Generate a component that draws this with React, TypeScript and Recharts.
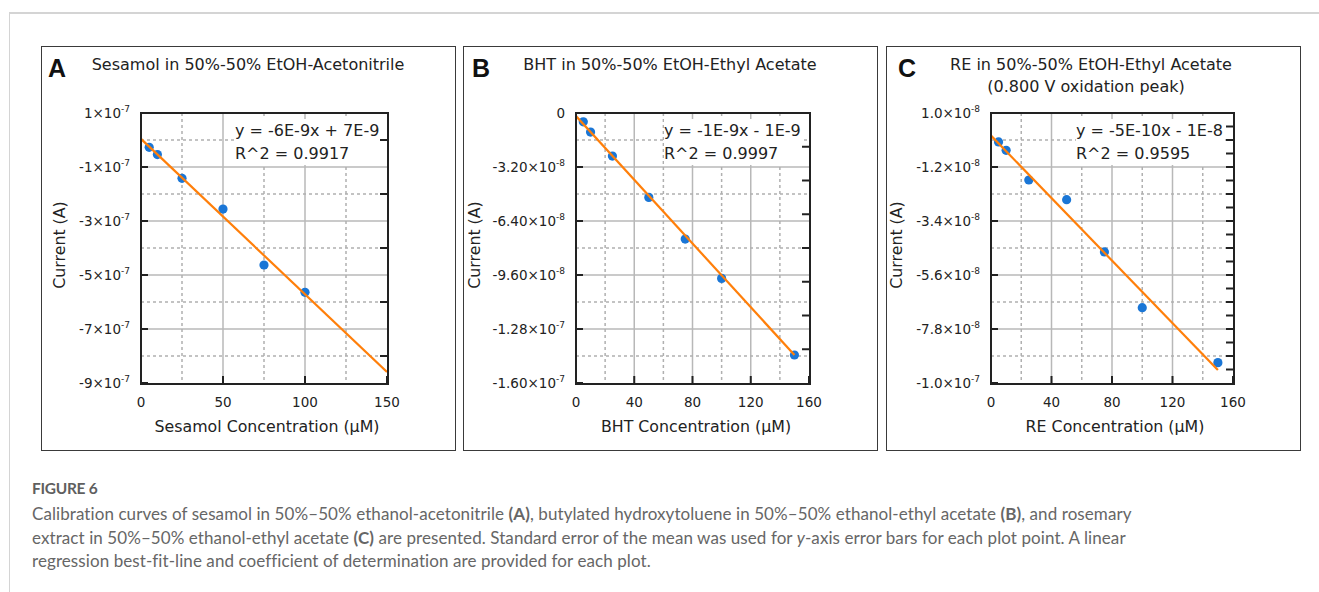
import React from "react";
import { ScatterChart, Scatter, XAxis, YAxis, CartesianGrid } from "recharts";

const BLUE = "#1a76d6";
const ORANGE = "#ff7f0a";
const FONT = "'DejaVu Sans', Verdana, sans-serif";
const INK = "#222";

// Panel A: sesamol
const concA = [5, 10, 25, 50, 75, 100];
const currentA = [-2.7e-8, -5.4e-8, -1.42e-7, -2.56e-7, -4.63e-7, -5.64e-7];
const fitXA = [0, 150];
const fitYA = [4e-9, -8.59e-7];
const xTicksA = [0, 50, 100, 150];
const yTicksA = [1e-7, -1e-7, -3e-7, -5e-7, -7e-7, -9e-7];
const yBaseA = ["1×10", "-1×10", "-3×10", "-5×10", "-7×10", "-9×10"];
const yExpA = ["-7", "-7", "-7", "-7", "-7", "-7"];
const xGridA = [50, 100];
const xDotA = [25, 75, 125];
const yGridA = [-1e-7, -3e-7, -5e-7, -7e-7];
const yDotA = [0, -2e-7, -4e-7, -6e-7, -8e-7];
const topTicksA = [25, 50, 75, 100, 125];
const rightTicksA = [0, -2e-7, -4e-7, -6e-7, -8e-7];

// Panel B: BHT
const concB = [5, 10, 25, 50, 75, 100, 150];
const currentB = [-5.2e-9, -1.13e-8, -2.55e-8, -5.0e-8, -7.47e-8, -9.8e-8, -1.434e-7];
const fitXB = [0, 150];
const fitYB = [-1.8e-9, -1.434e-7];
const xTicksB = [0, 40, 80, 120, 160];
const yTicksB = [0, -3.2e-8, -6.4e-8, -9.6e-8, -1.28e-7, -1.6e-7];
const yBaseB = ["0", "-3.20×10", "-6.40×10", "-9.60×10", "-1.28×10", "-1.60×10"];
const yExpB = ["", "-8", "-8", "-8", "-7", "-7"];
const xGridB = [40, 80, 120];
const xDotB = [20, 60, 100, 140];
const yGridB = [-3.2e-8, -6.4e-8, -9.6e-8, -1.28e-7];
const yDotB = [-1.6e-8, -4.8e-8, -8e-8, -1.12e-7, -1.44e-7];
const topTicksB = [20, 40, 60, 80, 100, 120, 140];
const rightTicksB = [-2e-8, -4e-8, -6e-8, -8e-8, -1e-7, -1.2e-7, -1.4e-7];

// Panel C: rosemary extract
const concC = [5, 10, 25, 50, 75, 100, 150];
const currentC = [-1.8e-9, -5.2e-9, -1.73e-8, -2.53e-8, -4.66e-8, -6.93e-8, -9.17e-8];
const fitXC = [0, 150];
const fitYC = [0.8e-9, -9.47e-8];
const xTicksC = [0, 40, 80, 120, 160];
const yTicksC = [1e-8, -1.2e-8, -3.4e-8, -5.6e-8, -7.8e-8, -1e-7];
const yBaseC = ["1.0×10", "-1.2×10", "-3.4×10", "-5.6×10", "-7.8×10", "-1.0×10"];
const yExpC = ["-8", "-8", "-8", "-8", "-8", "-7"];
const xGridC = [40, 80, 120];
const xDotC = [20, 60, 100, 140];
const yGridC = [-1.2e-8, -3.4e-8, -5.6e-8, -7.8e-8];
const yDotC = [-1e-9, -2.3e-8, -4.5e-8, -6.7e-8, -8.9e-8];
const topTicksC = [20, 40, 60, 80, 100, 120, 140];
const rightTicksC = [
  4.5e-9, -1e-9, -6.5e-9, -1.2e-8, -1.75e-8, -2.3e-8, -2.85e-8, -3.4e-8, -3.95e-8, -4.5e-8,
  -5.05e-8, -5.6e-8, -6.15e-8, -6.7e-8, -7.25e-8, -7.8e-8, -8.35e-8, -8.9e-8, -9.45e-8,
];

const TICK_LEN = 7;

function nearest(list: number[], v: number) {
  let best = 0;
  list.forEach((t, i) => {
    if (Math.abs(t - v) < Math.abs(list[best] - v)) best = i;
  });
  return best;
}

function Plot(p: any) {
  const ML = 100;
  const MB = 50;
  const SIDE = 10;
  const EXTRA = 24;
  const pts = p.xs.map((x: number, i: number) => ({ x, y: p.ys[i] }));
  const fit = p.fitX.map((x: number, i: number) => ({ x, y: p.fitY[i] }));
  const xDomain = [p.xTicks[0], p.xTicks[p.xTicks.length - 1]];
  const yDomain = [p.yTicks[p.yTicks.length - 1], p.yTicks[0]];

  // tick renderers draw the inward tick mark plus the label
  const YTick = (t: any) => {
    const i = nearest(p.yTicks, t.payload.value);
    const x = Number(t.x);
    const y = Number(t.y);
    return (
      <g>
        <line x1={x} x2={x + TICK_LEN} y1={y} y2={y} stroke={INK} strokeWidth={2} />
        <text x={x - 11} y={y + 4.5} textAnchor="end" fontFamily={FONT} fontSize={13.5} fill={INK}>
          {p.yBase[i]}
          {p.yExp[i] ? (
            <tspan dy={-6} fontSize={9}>
              {p.yExp[i]}
            </tspan>
          ) : null}
        </text>
      </g>
    );
  };
  const XTick = (t: any) => {
    const x = Number(t.x);
    const y = Number(t.y);
    return (
      <g>
        <line x1={x} x2={x} y1={y} y2={y - TICK_LEN} stroke={INK} strokeWidth={2} />
        <text x={x} y={y + 24} textAnchor="middle" fontFamily={FONT} fontSize={13.5} fill={INK}>
          {t.payload.value}
        </text>
      </g>
    );
  };
  const TopTick = (t: any) => {
    const x = Number(t.x);
    const y = Number(t.y);
    return <line x1={x} x2={x} y1={y} y2={y + TICK_LEN} stroke={INK} strokeWidth={2} />;
  };
  const RightTick = (t: any) => {
    const x = Number(t.x);
    const y = Number(t.y);
    return <line x1={x} x2={x - TICK_LEN} y1={y} y2={y} stroke={INK} strokeWidth={2} />;
  };

  const common = {
    type: "number" as const,
    interval: 0 as const,
    allowDataOverflow: true,
    tickSize: 0,
    tickMargin: 0,
    tickLine: false,
    axisLine: false,
  };

  return (
    <div style={{ position: "absolute", left: p.left - ML, top: p.top - SIDE }}>
      <ScatterChart
        width={p.width + ML + SIDE + EXTRA}
        height={p.height + SIDE + MB}
        margin={{ top: 0, right: EXTRA, bottom: 0, left: 0 }}
      >
        <CartesianGrid horizontalValues={p.yGrid} verticalValues={p.xGrid} stroke="#b8b8b8" strokeWidth={1.5} />
        <CartesianGrid
          horizontalValues={p.yDot}
          verticalValues={p.xDot}
          stroke="#b0b0b0"
          strokeWidth={1.5}
          strokeDasharray="3 3"
        />
        <XAxis {...common} dataKey="x" domain={xDomain} ticks={p.xTicks} height={MB} tick={XTick} />
        <XAxis
          {...common}
          xAxisId="top"
          orientation="top"
          domain={xDomain}
          ticks={p.topTicks}
          height={SIDE}
          tick={TopTick}
        />
        <YAxis {...common} dataKey="y" domain={yDomain} ticks={p.yTicks} width={ML} tick={YTick} />
        <YAxis
          {...common}
          yAxisId="right"
          orientation="right"
          domain={yDomain}
          ticks={p.rightTicks}
          width={SIDE}
          tick={RightTick}
        />
        <Scatter
          data={pts}
          isAnimationActive={false}
          shape={(s: any) => <circle cx={s.cx} cy={s.cy} r={4.6} fill={BLUE} />}
        />
        <Scatter
          data={fit}
          isAnimationActive={false}
          line={{ stroke: ORANGE, strokeWidth: 2.2 }}
          shape={() => <g />}
        />
      </ScatterChart>
      {/* plot frame */}
      <div
        style={{
          position: "absolute",
          left: ML - 1,
          top: SIDE - 1,
          width: p.width + 2.5,
          height: p.height + 2.5,
          border: `2.5px solid ${INK}`,
          boxSizing: "border-box",
          pointerEvents: "none",
        }}
      />
    </div>
  );
}

function Txt(props: any) {
  const { x, y, size = 15.8, rotate = false, children, style } = props;
  return (
    <div
      style={{
        position: "absolute",
        left: x,
        top: y,
        transform: `translate(-50%, -50%)${rotate ? " rotate(-90deg)" : ""}`,
        whiteSpace: "nowrap",
        fontFamily: FONT,
        fontSize: size,
        lineHeight: "1.2",
        color: INK,
        ...style,
      }}
    >
      {children}
    </div>
  );
}

function Equation({ x, lines }: { x: number; lines: string[] }) {
  return (
    <div
      style={{
        position: "absolute",
        left: x,
        top: 119,
        background: "#fff",
        fontFamily: FONT,
        fontSize: 16,
        lineHeight: "23px",
        color: INK,
        whiteSpace: "nowrap",
      }}
    >
      {lines.map((l) => (
        <div key={l}>{l}</div>
      ))}
    </div>
  );
}

const boxStyle: React.CSSProperties = {
  position: "absolute",
  top: 46,
  height: 405,
  width: 415,
  border: "1.5px solid #3a3a3a",
  boxSizing: "border-box",
};

const letterStyle: React.CSSProperties = {
  position: "absolute",
  top: 56,
  fontFamily: "'Liberation Sans', Arial, sans-serif",
  fontWeight: 700,
  fontSize: 25,
  lineHeight: "25px",
  color: "#111",
};

export default function App() {
  return (
    <div
      style={{
        position: "absolute",
        left: 0,
        top: 0,
        width: 1319,
        height: 592,
        overflow: "hidden",
        background: "#fff",
      }}
    >
      <div
        style={{
          position: "absolute",
          left: 9,
          top: 12,
          width: 1400,
          height: 700,
          borderTop: "2px solid #d4d4d4",
          borderLeft: "1.5px solid #d4d4d4",
        }}
      />

      <div style={{ ...boxStyle, left: 41 }} />
      <div style={{ ...boxStyle, left: 463 }} />
      <div style={{ ...boxStyle, left: 886 }} />

      <div style={{ ...letterStyle, left: 48 }}>A</div>
      <div style={{ ...letterStyle, left: 472 }}>B</div>
      <div style={{ ...letterStyle, left: 898 }}>C</div>

      <Txt x={248} y={65} size={16}>Sesamol in 50%-50% EtOH-Acetonitrile</Txt>
      <Txt x={670} y={65} size={16}>BHT in 50%-50% EtOH-Ethyl Acetate</Txt>
      <Txt x={1091} y={65} size={16}>RE in 50%-50% EtOH-Ethyl Acetate</Txt>
      <Txt x={1086} y={87} size={16}>(0.800 V oxidation peak)</Txt>

      <Plot
        left={141}
        top={113}
        width={246}
        height={270}
        xs={concA}
        ys={currentA}
        fitX={fitXA}
        fitY={fitYA}
        xTicks={xTicksA}
        yTicks={yTicksA}
        yBase={yBaseA}
        yExp={yExpA}
        xGrid={xGridA}
        xDot={xDotA}
        yGrid={yGridA}
        yDot={yDotA}
        topTicks={topTicksA}
        rightTicks={rightTicksA}
      />
      <Plot
        left={576}
        top={113}
        width={233}
        height={270}
        xs={concB}
        ys={currentB}
        fitX={fitXB}
        fitY={fitYB}
        xTicks={xTicksB}
        yTicks={yTicksB}
        yBase={yBaseB}
        yExp={yExpB}
        xGrid={xGridB}
        xDot={xDotB}
        yGrid={yGridB}
        yDot={yDotB}
        topTicks={topTicksB}
        rightTicks={rightTicksB}
      />
      <Plot
        left={991}
        top={113}
        width={242}
        height={270}
        xs={concC}
        ys={currentC}
        fitX={fitXC}
        fitY={fitYC}
        xTicks={xTicksC}
        yTicks={yTicksC}
        yBase={yBaseC}
        yExp={yExpC}
        xGrid={xGridC}
        xDot={xDotC}
        yGrid={yGridC}
        yDot={yDotC}
        topTicks={topTicksC}
        rightTicks={rightTicksC}
      />

      <Equation x={235} lines={["y = -6E-9x + 7E-9", "R^2 = 0.9917"]} />
      <Equation x={664} lines={["y = -1E-9x - 1E-9", "R^2 = 0.9997"]} />
      <Equation x={1076} lines={["y = -5E-10x - 1E-8", "R^2 = 0.9595"]} />

      <Txt x={60} y={245} rotate>Current (A)</Txt>
      <Txt x={475} y={245} rotate>Current (A)</Txt>
      <Txt x={897} y={245} rotate>Current (A)</Txt>
      <Txt x={267} y={427}>Sesamol Concentration (μM)</Txt>
      <Txt x={696} y={427}>BHT Concentration (μM)</Txt>
      <Txt x={1115} y={427}>RE Concentration (μM)</Txt>

      <div
        style={{
          position: "absolute",
          left: 32,
          top: 477,
          fontFamily: "Lato, 'Open Sans', sans-serif",
          fontWeight: 700,
          fontSize: 15.5,
          letterSpacing: "-0.3px",
          lineHeight: "23.5px",
          color: "#5f5f5f",
        }}
      >
        FIGURE 6
      </div>
      <div
        style={{
          position: "absolute",
          left: 32,
          top: 502,
          fontFamily: "Lato, 'Open Sans', sans-serif",
          fontSize: 17,
          letterSpacing: "0.08px",
          lineHeight: "23.5px",
          color: "#666",
          whiteSpace: "nowrap",
        }}
      >
        Calibration curves of sesamol in 50%–50% ethanol-acetonitrile <b>(A)</b>, butylated hydroxytoluene in
        50%–50% ethanol-ethyl acetate <b>(B)</b>, and rosemary
        <br />
        extract in 50%–50% ethanol-ethyl acetate <b>(C)</b> are presented. Standard error of the mean was used for{" "}
        <i>y</i>-axis error bars for each plot point. A linear
        <br />
        regression best-fit-line and coefficient of determination are provided for each plot.
      </div>
    </div>
  );
}
